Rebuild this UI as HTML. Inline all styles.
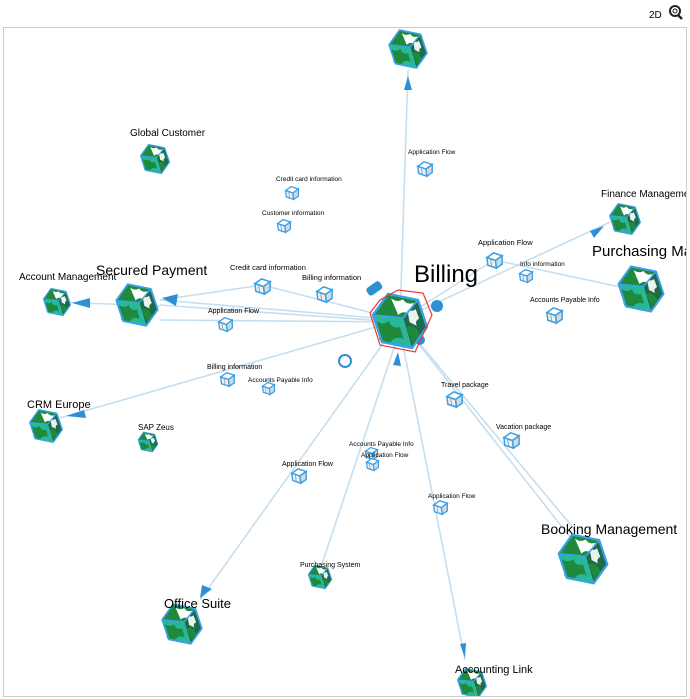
<!DOCTYPE html>
<html><head><meta charset="utf-8"><style>
html,body{margin:0;padding:0;background:#fff;}
svg{display:block;font-family:"Liberation Sans","DejaVu Sans",sans-serif;}
</style></head><body>
<svg width="690" height="699" viewBox="0 0 690 699" xmlns="http://www.w3.org/2000/svg">
<defs>
<clipPath id="frame"><rect x="4" y="28" width="682" height="668"/></clipPath>
<symbol id="cube" viewBox="0 0 100 100">
<polygon points="5,40 30,5 80,15 55,45" fill="#1f8a3c"/>
<polygon points="55,45 80,15 95,60 70,95" fill="#1d6b4a"/>
<polygon points="5,40 55,45 70,95 20,85" fill="#27b89a"/>
<path d="M35,12 q10,8 20,2 q6,10 18,6 l-8,18 q-10,-6 -18,2 z" fill="#fff"/>
<path d="M62,30 q8,6 14,0 l6,16 q-8,4 -4,12 l-12,-6 z" fill="#e8f4ec"/>
<path d="M10,50 q12,8 22,0 q4,14 18,10 l6,20 q-14,-6 -22,6 l-18,-4 z" fill="#1f8a3c"/>
<path d="M60,60 q10,-4 18,4 l6,12 q-10,2 -12,12 z" fill="#1f8a3c"/>
<polygon points="5,40 30,5 80,15 95,60 70,95 20,85" fill="none" stroke="#3aa0e8" stroke-width="4"/>
<polyline points="5,40 55,45 80,15 M55,45 70,95" fill="none" stroke="#3aa0e8" stroke-width="3"/>
</symbol>
<symbol id="mini" viewBox="0 0 20 20">
<polygon points="2,7 9,2 18,5 11,10" fill="#fff" stroke="#3aa0e8" stroke-width="1.6"/>
<polygon points="11,10 18,5 18,14 12,18" fill="#d8d8d8" stroke="#3aa0e8" stroke-width="1.6"/>
<polygon points="2,7 11,10 12,18 3,15" fill="#f0f0f0" stroke="#3aa0e8" stroke-width="1.6"/>
<line x1="6" y1="9" x2="7" y2="16" stroke="#999" stroke-width="1"/>
</symbol>
</defs>
<rect x="3.5" y="27.5" width="683" height="669" fill="none" stroke="#ccc"/>
<text x="649" y="18" font-size="10" fill="#000">2D</text>
<circle cx="675" cy="11" r="5" fill="none" stroke="#222" stroke-width="2"/>
<circle cx="675" cy="11" r="2" fill="none" stroke="#222" stroke-width="1"/>
<line x1="678" y1="15" x2="682" y2="19" stroke="#222" stroke-width="2.5"/>

<g clip-path="url(#frame)">
<g stroke="#c5dff0" stroke-width="1.6" fill="none">
<line x1="400" y1="320" x2="408" y2="70"/>
<line x1="400" y1="320" x2="610" y2="222"/>
<line x1="400" y1="320" x2="494" y2="260"/>
<line x1="494" y1="260" x2="625" y2="288"/>
<line x1="400" y1="320" x2="160" y2="300"/>
<line x1="160" y1="300" x2="262" y2="285"/>
<line x1="262" y1="285" x2="400" y2="320"/>
<line x1="160" y1="305" x2="400" y2="322"/>
<line x1="160" y1="320" x2="400" y2="322"/>
<line x1="58" y1="302" x2="160" y2="306"/>
<line x1="400" y1="320" x2="60" y2="418"/>
<line x1="400" y1="320" x2="200" y2="600"/>
<line x1="400" y1="330" x2="320" y2="570"/>
<line x1="400" y1="330" x2="465" y2="660"/>
<line x1="400" y1="320" x2="580" y2="550"/>
<line x1="400" y1="320" x2="600" y2="560"/>
</g>

<g fill="#2f8fd4">
<polygon points="408,76 404,90 412,90"/>
<polygon points="604,226 590,231 594,238"/>
<polygon points="162,298 178,294 176,306"/>
<polygon points="72,303 90,298 90,308"/>
<polygon points="66,416 84,410 86,418"/>
<polygon points="200,598 202,585 212,589"/>
<polygon points="465,658 460,644 466,643"/>
<rect x="366" y="284" width="16" height="9" rx="3" transform="rotate(-35 374 288)"/>
<circle cx="345" cy="361" r="6" fill="none" stroke="#2f8fd4" stroke-width="2"/>
<circle cx="437" cy="306" r="6"/>
<circle cx="420" cy="340" r="5"/>
<polygon points="393,365 398,352 401,366"/>
</g>

<use href="#cube" x="387" y="28" width="42" height="42"/>
<use href="#cube" x="139" y="143" width="32" height="32"/>
<use href="#cube" x="608" y="202" width="34" height="34"/>
<use href="#cube" x="616" y="264" width="50" height="50"/>
<use href="#cube" x="42" y="287" width="30" height="30"/>
<use href="#cube" x="114" y="282" width="46" height="46"/>
<use href="#cube" x="370" y="290" width="60" height="62"/>
<polygon points="370,313 380,300 398,290 423,293 432,315 415,352 380,345" fill="none" stroke="#e33" stroke-width="1.2"/>
<use href="#cube" x="28" y="408" width="36" height="36"/>
<use href="#cube" x="137" y="431" width="22" height="22"/>
<use href="#cube" x="556" y="532" width="54" height="54"/>
<use href="#cube" x="307" y="564" width="26" height="26"/>
<use href="#cube" x="160" y="602" width="44" height="44"/>
<use href="#cube" x="453" y="667" width="38" height="32"/>

<g>
<use href="#mini" x="416" y="160" width="18" height="18"/>
<use href="#mini" x="284" y="185" width="16" height="16"/>
<use href="#mini" x="276" y="218" width="16" height="16"/>
<use href="#mini" x="253" y="277" width="19" height="19"/>
<use href="#mini" x="315" y="285" width="19" height="19"/>
<use href="#mini" x="217" y="316" width="17" height="17"/>
<use href="#mini" x="485" y="251" width="19" height="19"/>
<use href="#mini" x="518" y="268" width="16" height="16"/>
<use href="#mini" x="545" y="306" width="19" height="19"/>
<use href="#mini" x="219" y="371" width="17" height="17"/>
<use href="#mini" x="261" y="381" width="15" height="15"/>
<use href="#mini" x="445" y="390" width="19" height="19"/>
<use href="#mini" x="502" y="431" width="19" height="19"/>
<use href="#mini" x="290" y="467" width="18" height="18"/>
<use href="#mini" x="364" y="446" width="15" height="15"/>
<use href="#mini" x="365" y="457" width="15" height="15"/>
<use href="#mini" x="432" y="499" width="17" height="17"/>
</g>

<g fill="#000">
<text x="130" y="136" font-size="10">Global Customer</text>
<text x="601" y="197" font-size="10">Finance Management</text>
<text x="592" y="256" font-size="15">Purchasing Management</text>
<text x="19" y="280" font-size="10">Account Management</text>
<text x="96" y="275" font-size="14">Secured Payment</text>
<text x="414" y="282" font-size="24">Billing</text>
<text x="27" y="408" font-size="11">CRM Europe</text>
<text x="138" y="430" font-size="8">SAP Zeus</text>
<text x="541" y="534" font-size="14">Booking Management</text>
<text x="300" y="567" font-size="7">Purchasing System</text>
<text x="164" y="608" font-size="13">Office Suite</text>
<text x="455" y="673" font-size="11">Accounting Link</text>
<g font-size="6.5">
<text x="408" y="154">Application Flow</text>
<text x="276" y="181">Credit card information</text>
<text x="262" y="215">Customer information</text>
<text x="230" y="270" font-size="7.5">Credit card information</text>
<text x="302" y="280" font-size="7.5">Billing information</text>
<text x="208" y="313" font-size="7">Application Flow</text>
<text x="478" y="245" font-size="7.5">Application Flow</text>
<text x="520" y="266">Info information</text>
<text x="530" y="302" font-size="7">Accounts Payable Info</text>
<text x="207" y="369" font-size="7">Billing information</text>
<text x="248" y="382">Accounts Payable Info</text>
<text x="441" y="387" font-size="7">Travel package</text>
<text x="496" y="429" font-size="7">Vacation package</text>
<text x="282" y="466" font-size="7">Application Flow</text>
<text x="349" y="446">Accounts Payable Info</text>
<text x="361" y="457">Application Flow</text>
<text x="428" y="498">Application Flow</text>
</g>
</g>
</g>
</svg>
</body></html>
